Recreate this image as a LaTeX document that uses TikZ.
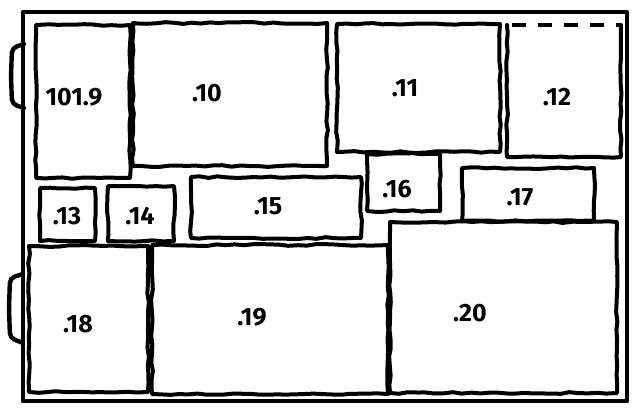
\documentclass[tikz,border=0pt]{standalone}
\usepackage{fontspec}
\setsansfont{Fira Sans}
\usetikzlibrary{decorations.pathmorphing}
\begin{document}
\begin{tikzpicture}[x=1pt,y=-1pt,
  sketch/.style={line width=4pt,line join=round,line cap=round,decorate,
    decoration={random steps,segment length=9pt,amplitude=0.9pt}},
  frame/.style={line width=4.4pt,line join=round,line cap=round},
  tag/.style={font=\fontsize{25}{25}\selectfont\sffamily\bfseries}]
\pgfmathsetseed{11}
\useasboundingbox (0,0) rectangle (637,413);
% drawer and handles
\draw[frame] (23,12) rectangle (627,401);
\draw[frame,rounded corners=5pt] (24,44)--(12,48)--(11,76)--(12,104)--(24,108);
\draw[frame,rounded corners=5pt] (23,274)--(10,278)--(9,308)--(10,338)--(23,343);
% compartments
\foreach \n/\xa/\ya/\xb/\yb/\lx/\ly/\txt in {
  a/36/25/130/178/74/97/101.9,
  b/133/23/327/166/207/93/.10,
  c/337/24/500/152/405/88/.11,
  d/40/188/95/241/67/216/.13,
  e/108/186/174/241/140/216/.14,
  f/191/177/361/238/268/206/.15,
  g/367/154/440/211/397/189/.16,
  h/462/168/594/221/520/197/.17,
  i/29/246/148/392/78/324/.18,
  j/152/245/388/394/252/317/.19,
  k/390/222/617/393/470/313/.20}
{
  \draw[sketch] (\xa,\ya) rectangle (\xb,\yb);
  \node[tag] (box\n) at (\lx,\ly) {\txt};
}
\draw[sketch] (507,25)--(507,157)--(621,157)--(621,25);
\draw[line width=4pt,dash pattern=on 14pt off 12pt] (512,25)--(621,25);
\node[tag] (boxl) at (557,97) {.12};
\end{tikzpicture}
\end{document}
